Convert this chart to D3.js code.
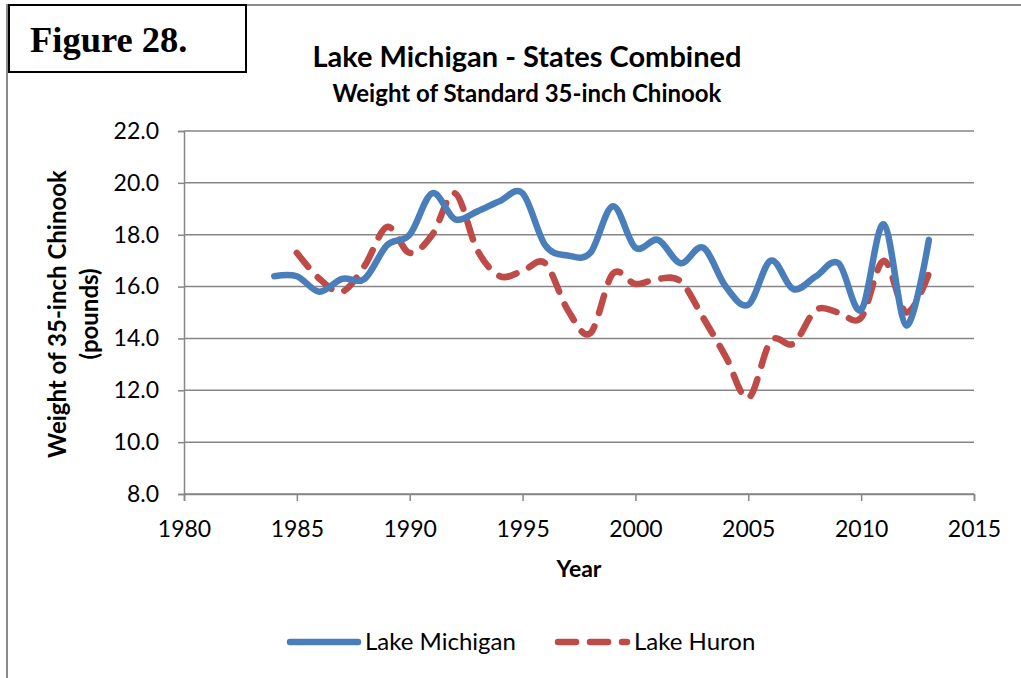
<!DOCTYPE html>
<html>
<head>
<meta charset="utf-8">
<script src="https://cdn.jsdelivr.net/npm/d3@7"></script>
<style>
  body { margin: 0; background: #fff; }
  svg { display: block; font-family: Lato, "Open Sans", sans-serif; }
</style>
</head>
<body>
<svg id="chart" width="1021" height="678"></svg>
<script>
// data
var years = [1984,1985,1986,1987,1988,1989,1990,1991,1992,1993,1994,1995,1996,1997,1998,1999,2000,2001,2002,2003,2004,2005,2006,2007,2008,2009,2010,2011,2012,2013];
var michigan = [16.4,16.4,15.8,16.3,16.3,17.6,18.0,19.6,18.6,18.9,19.3,19.6,17.6,17.2,17.3,19.1,17.5,17.8,16.9,17.5,16.0,15.3,17.0,15.9,16.4,16.9,15.1,18.4,14.5,17.8];
var huronYears = years.slice(1);
var huron = [17.3,16.3,15.8,16.8,18.3,17.3,18.0,19.6,17.4,16.4,16.6,16.9,15.1,14.2,16.5,16.1,16.3,16.2,14.8,13.3,11.7,13.9,13.8,15.1,15.0,14.8,17.0,15.0,16.5];
var yTicks = [8,10,12,14,16,18,20,22];
var xTicks = [1980,1985,1990,1995,2000,2005,2010,2015];

var svg = d3.select('#chart');

var x = d3.scaleLinear().domain([1980, 2015]).range([184, 974]);
var y = d3.scaleLinear().domain([8, 22]).range([494, 131]);

// outer frame
svg.append('path')
  .attr('d', 'M7,678 V5 H1021')
  .attr('fill', 'none')
  .attr('stroke', '#8c8c8c')
  .attr('stroke-width', 2);

// figure label box
svg.append('rect')
  .attr('x', 9).attr('y', 5).attr('width', 237).attr('height', 67)
  .attr('fill', '#fff').attr('stroke', '#000').attr('stroke-width', 2);
svg.append('text')
  .attr('x', 30).attr('y', 52)
  .style('font-family', '"Liberation Serif", "DejaVu Serif", serif')
  .style('font-weight', 'bold').style('font-size', '36.5px')
  .text('Figure 28.');

// titles
svg.append('text')
  .attr('x', 527).attr('y', 67).attr('text-anchor', 'middle')
  .style('font-weight', 'bold').style('font-size', '29px')
  .text('Lake Michigan - States Combined');
svg.append('text')
  .attr('x', 527).attr('y', 102).attr('text-anchor', 'middle')
  .style('font-weight', 'bold').style('font-size', '24px')
  .text('Weight of Standard 35-inch Chinook');

// gridlines
svg.append('g').selectAll('line')
  .data(yTicks)
  .enter().append('line')
  .attr('x1', x(1980)).attr('x2', x(2015))
  .attr('y1', function(d){ return y(d); })
  .attr('y2', function(d){ return y(d); })
  .attr('stroke', '#868686').attr('stroke-width', 1.5);

// axes
var yAxis = svg.append('g')
  .attr('transform', 'translate(' + x(1980) + ',0)')
  .call(d3.axisLeft(y).tickValues(yTicks).tickSize(6).tickPadding(19)
    .tickFormat(function(d){ return d.toFixed(1); }));
var xAxis = svg.append('g')
  .attr('transform', 'translate(0,' + y(8) + ')')
  .call(d3.axisBottom(x).tickValues(xTicks).tickSize(7).tickPadding(20)
    .tickFormat(d3.format('d')));

[yAxis, xAxis].forEach(function(a){
  a.select('.domain').attr('stroke', '#868686').attr('stroke-width', 1.5);
  a.selectAll('.tick line').attr('stroke', '#868686').attr('stroke-width', 1.5);
  a.selectAll('text').style('font-size', '23px').style('font-family', 'Lato, "Open Sans", sans-serif').attr('fill', '#000');
});

// axis titles
svg.append('text')
  .attr('x', 579).attr('y', 577).attr('text-anchor', 'middle')
  .style('font-weight', 'bold').style('font-size', '23px')
  .text('Year');
var yt = svg.append('text')
  .attr('transform', 'translate(66,314) rotate(-90)')
  .attr('text-anchor', 'middle')
  .style('font-weight', 'bold').style('font-size', '24px');
yt.append('tspan').attr('x', 0).attr('dy', 0).text('Weight of 35-inch Chinook');
yt.append('tspan').attr('x', 0).attr('dy', 32).text('(pounds)');

// lines
var line = d3.line()
  .x(function(d){ return x(d[0]); })
  .y(function(d){ return y(d[1]); })
  .curve(d3.curveCatmullRom.alpha(0));

svg.append('path')
  .datum(d3.zip(huronYears, huron))
  .attr('d', line)
  .attr('fill', 'none')
  .attr('stroke', '#BE4B48').attr('stroke-width', 6.5)
  .attr('stroke-linecap', 'round')
  .attr('stroke-dasharray', '18,14');

svg.append('path')
  .datum(d3.zip(years, michigan))
  .attr('d', line)
  .attr('fill', 'none')
  .attr('stroke', '#4A7EBB').attr('stroke-width', 6.5)
  .attr('stroke-linecap', 'round');

// legend
var legend = svg.append('g');
legend.append('line')
  .attr('x1', 290).attr('x2', 358).attr('y1', 642).attr('y2', 642)
  .attr('stroke', '#4A7EBB').attr('stroke-width', 6.5).attr('stroke-linecap', 'round');
legend.append('text')
  .attr('x', 365).attr('y', 650)
  .style('font-size', '24px')
  .text('Lake Michigan');
legend.append('line')
  .attr('x1', 558).attr('x2', 627).attr('y1', 642).attr('y2', 642)
  .attr('stroke', '#BE4B48').attr('stroke-width', 6.5).attr('stroke-linecap', 'round')
  .attr('stroke-dasharray', '18,14');
legend.append('text')
  .attr('x', 634).attr('y', 650)
  .style('font-size', '24px')
  .text('Lake Huron');
</script>
</body>
</html>
